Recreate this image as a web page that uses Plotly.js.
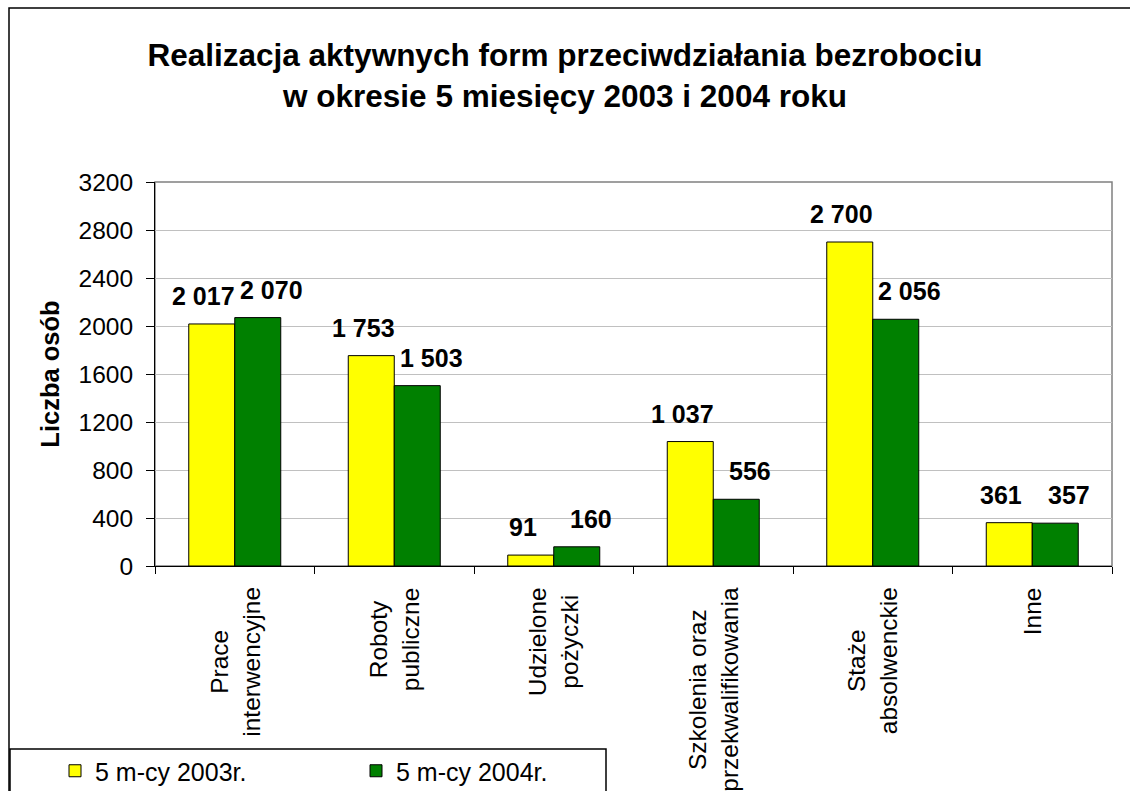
<!DOCTYPE html>
<html>
<head>
<meta charset="utf-8">
<script src="https://cdn.plot.ly/plotly-3.0.1.min.js"></script>
<style>
  html, body { margin: 0; padding: 0; background: #ffffff; }
  #chart { width: 1130px; height: 791px; }
</style>
</head>
<body>
<div id="chart"></div>
<script>
// ---------------- data ----------------
const categories = [
  "Prace interwencyjne",
  "Roboty publiczne",
  "Udzielone pożyczki",
  "Szkolenia oraz przekwalifikowania",
  "Staże absolwenckie",
  "Inne"
];
const categoryLabels = [
  "Prace<br>interwencyjne",
  "Roboty<br>publiczne",
  "Udzielone<br>pożyczki",
  "Szkolenia oraz<br>przekwalifikowania",
  "Staże<br>absolwenckie",
  "Inne"
];
const series2003 = [2017, 1753, 91, 1037, 2700, 361];
const series2004 = [2070, 1503, 160, 556, 2056, 357];
const seriesNames = ["5 m-cy 2003r.", "5 m-cy 2004r."];
const yTickValues = [0, 400, 800, 1200, 1600, 2000, 2400, 2800, 3200];
const chartTitle = "Realizacja aktywnych form przeciwdziałania bezrobociu<br>w okresie 5 miesięcy 2003 i 2004 roku";
const yAxisTitle = "Liczba osób";

// ---------------- layout constants ----------------
const FONT = "'Liberation Sans', Arial, sans-serif";
const W = 1130, H = 791;
const M = { l: 155, r: 18, t: 182, b: 225, autoexpand: false };
const PW = W - M.l - M.r, PH = H - M.t - M.b;
const xp = px => (px - M.l) / PW;
const yp = py => (H - M.b - py) / PH;

const BARGAP = 0.4232;
const catPx = PW / categories.length;
const barPx = (1 - BARGAP) * catPx / 2;

const fmt = n => String(n).replace(/\B(?=(\d{3})+(?!\d))/g, " ");

const traces = [
  {
    type: "bar", name: seriesNames[0], x: categories, y: series2003,
    marker: { color: "#FFFF00", line: { color: "#000000", width: 1 } },
    hoverinfo: "skip"
  },
  {
    type: "bar", name: seriesNames[1], x: categories, y: series2004,
    marker: { color: "#008000", line: { color: "#000000", width: 1 } },
    hoverinfo: "skip"
  }
];

const annotations = [];
// value labels
[series2003, series2004].forEach((arr, si) => {
  arr.forEach((v, i) => {
    annotations.push({
      xref: "x", yref: "y", x: categories[i], y: v,
      text: fmt(v), showarrow: false,
      xanchor: "center", yanchor: "bottom",
      xshift: si === 0 ? -barPx / 2 - 8 : barPx / 2 + 14,
      yshift: 12,
      font: { family: FONT, size: 25, color: "#000000", weight: "bold" }
    });
  });
});
// category labels (rotated, centered lines)
categoryLabels.forEach((t, i) => {
  annotations.push({
    xref: "x", yref: "paper", x: categories[i], y: 0,
    text: t, showarrow: false, textangle: -90,
    xanchor: "center", yanchor: "top", yshift: -19, align: "center",
    font: { family: FONT, size: 24.5, color: "#000000" }
  });
});

const shapes = [
  // outer chart frame
  { type: "rect", xref: "paper", yref: "paper",
    x0: xp(9), x1: xp(W + 20), y0: yp(H + 20), y1: yp(8),
    line: { color: "#000000", width: 1.5 }, fillcolor: "rgba(0,0,0,0)", layer: "below" },
  // plot area border (gray)
  { type: "rect", xref: "paper", yref: "paper", x0: 0, x1: 1, y0: 0, y1: 1,
    line: { color: "#808080", width: 1.5 }, fillcolor: "rgba(0,0,0,0)", layer: "below" },
  // legend box
  { type: "rect", xref: "paper", yref: "paper",
    x0: xp(10), x1: xp(606), y0: yp(H + 20), y1: yp(749),
    line: { color: "#000000", width: 1.5 }, fillcolor: "#ffffff", layer: "above" }
];

const layout = {
  width: W, height: H,
  margin: M,
  paper_bgcolor: "#ffffff", plot_bgcolor: "#ffffff",
  font: { family: FONT, color: "#000000" },
  title: {
    text: chartTitle,
    font: { family: FONT, size: 31.5, color: "#000000", weight: "bold" },
    x: 0.5, xref: "container", xanchor: "center",
    y: 1 - 66 / H, yref: "container", yanchor: "top"
  },
  barmode: "group", bargap: BARGAP, bargroupgap: 0,
  showlegend: true,
  legend: {
    orientation: "h", x: xp(55), y: yp(748), xanchor: "left", yanchor: "top",
    bgcolor: "rgba(0,0,0,0)", borderwidth: 0,
    font: { family: FONT, size: 25, color: "#000000" },
    entrywidth: 256, entrywidthmode: "pixels",
    traceorder: "normal"
  },
  xaxis: {
    type: "category", categoryorder: "array", categoryarray: categories,
    showticklabels: false, tickson: "boundaries",
    ticks: "outside", ticklen: 7, tickcolor: "#000000", tickwidth: 1,
    showline: true, linecolor: "#000000", linewidth: 1,
    showgrid: false, zeroline: false, fixedrange: true
  },
  yaxis: {
    range: [0, 3200], tickvals: yTickValues, ticktext: yTickValues.map(String),
    ticks: "outside", ticklen: 8, tickcolor: "#000000", tickwidth: 1,
    ticklabelstandoff: 8,
    tickfont: { family: FONT, size: 24.5, color: "#000000" },
    showline: true, linecolor: "#000000", linewidth: 1,
    showgrid: true, gridcolor: "#c0c0c0", gridwidth: 1,
    zeroline: false, fixedrange: true,
    title: { text: yAxisTitle, standoff: 11,
      font: { family: FONT, size: 25.5, color: "#000000", weight: "bold" } }
  },
  annotations: annotations,
  shapes: shapes
};

Plotly.newPlot("chart", traces, layout, { displayModeBar: false, staticPlot: true });
</script>
</body>
</html>
